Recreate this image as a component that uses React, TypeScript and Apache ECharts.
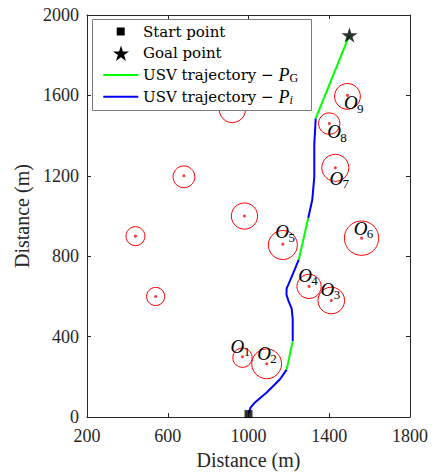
import React, { useEffect, useRef } from "react";
import * as echarts from "echarts";

// ---- data ----
const xTicks = [200, 600, 1000, 1400, 1800];
const yTicks = [0, 400, 800, 1200, 1600, 2000];

// obstacles: [x, y, radius]
const labeledObstacles = [
  [970, 300, 48],
  [1090, 265, 74],
  [1410, 580, 66],
  [1300, 650, 60],
  [1170, 860, 72],
  [1560, 890, 85],
  [1430, 1240, 67],
  [1400, 1460, 53],
  [1490, 1600, 64],
];
const otherObstacles = [
  [680, 1200, 54],
  [980, 1000, 65],
  [440, 900, 47],
  [540, 600, 45],
  [920, 1530, 65],
];
// label anchors (centre of "O") and index
const obstacleLabels = [
  [945, 352, 1],
  [1077, 318, 2],
  [1391, 635, 3],
  [1280, 706, 4],
  [1167, 921, 5],
  [1555, 940, 6],
  [1435, 1188, 7],
  [1424, 1419, 8],
  [1507, 1563, 9],
];

const startPoint = [1000, 15];
const goalPoint = [1500, 1900];

const blue1 = [[1000, 15], [1004, 31], [1011, 48], [1032, 73], [1090, 122], [1156, 188], [1189, 236]];
const green1 = [[1189, 236], [1219, 378]];
const blue2 = [[1219, 378], [1219, 486], [1214, 540], [1198, 578], [1188, 610], [1189, 640], [1200, 665], [1222, 717], [1249, 783]];
const green2 = [[1249, 783], [1296, 990]];
const blue3 = [[1296, 990], [1316, 1081], [1326, 1196], [1326, 1360], [1333, 1486]];
const green3 = [[1333, 1486], [1500, 1900]];

const greenSegments = [green1, green2, green3];
const blueSegments = [blue1, blue2, blue3];

const legendNames = ["Start point", "Goal point", "USV trajectory − ", "USV trajectory − "];

// ---- styles ----
const GREEN = "#00ff00";
const BLUE = "#0000ff";
const RED = "#ff0000";
const AX = "#262626";
const FONT = "'Liberation Serif', 'Times New Roman', serif";
const LFONT = "'DejaVu Serif', serif";

const starPts = [
  [0, -10], [2.245, -3.09], [9.511, -3.09], [3.633, 1.18], [5.878, 8.09],
  [0, 3.82], [-5.878, 8.09], [-3.633, 1.18], [-9.511, -3.09], [-2.245, -3.09],
];
const starPath =
  "path://M" + starPts.map((p) => p[0] + "," + p[1]).join("L") + "Z";

export default function App() {
  const ref = useRef<HTMLDivElement>(null);
  useEffect(() => {
    const chart = echarts.init(ref.current!, null, { renderer: "svg" });
    const xMin = xTicks[0];
    const xMax = xTicks[xTicks.length - 1];
    const yMin = yTicks[0];
    const yMax = yTicks[yTicks.length - 1];
    const xInt = xTicks[1] - xTicks[0];
    const yInt = yTicks[1] - yTicks[0];

    const baseAxis = {
      type: "value",
      splitLine: { show: false },
      axisLine: { show: true, onZero: false, lineStyle: { color: AX, width: 1 } },
      axisTick: { show: true, inside: true, length: 4, lineStyle: { color: AX } },
    };

    const lineSeries = (data: number[][], color: string) => ({
      type: "line",
      data,
      symbol: "none",
      lineStyle: { color, width: 2 },
      z: 5,
      silent: true,
    });

    const legendX = 92.5;
    const legendY = 19.5;
    const rowY = [31.5, 53.3, 75, 96.7];
    const star = (cx: number, cy: number, s: number) =>
      starPts.map((p) => [cx + p[0] * s, cy + p[1] * s]);
    const plain = (v: number) => String(v);

    const option: any = {
      animation: false,
      textStyle: { fontFamily: FONT },
      grid: { left: 87, right: 25, top: 15, bottom: 57 },
      xAxis: [
        {
          ...baseAxis,
          min: xMin,
          max: xMax,
          interval: xInt,
          position: "bottom",
          name: "Distance (m)",
          nameLocation: "middle",
          nameGap: 32,
          nameTextStyle: { fontFamily: FONT, fontSize: 20, color: AX },
          axisLabel: { fontFamily: FONT, fontSize: 18, color: AX, margin: 10, formatter: plain },
        },
        {
          ...baseAxis,
          min: xMin,
          max: xMax,
          interval: xInt,
          position: "top",
          axisLabel: { show: false },
        },
      ],
      yAxis: [
        {
          ...baseAxis,
          min: yMin,
          max: yMax,
          interval: yInt,
          position: "left",
          name: "Distance (m)",
          nameLocation: "middle",
          nameGap: 49,
          nameTextStyle: { fontFamily: FONT, fontSize: 20, color: AX },
          axisLabel: { fontFamily: FONT, fontSize: 18, color: AX, margin: 8, formatter: plain },
        },
        {
          ...baseAxis,
          min: yMin,
          max: yMax,
          interval: yInt,
          position: "right",
          axisLabel: { show: false },
        },
      ],
      series: [
        {
          type: "custom",
          data: [...labeledObstacles, ...otherObstacles],
          encode: { x: 0, y: 1 },
          renderItem: (params: any, api: any) => {
            const c = api.coord([api.value(0), api.value(1)]);
            const r = api.size([api.value(2), 0])[0];
            return {
              type: "circle",
              shape: { cx: c[0], cy: c[1], r },
              style: { fill: "none", stroke: RED, lineWidth: 1 },
            };
          },
          z: 3,
          silent: true,
        },
        {
          type: "scatter",
          data: [...labeledObstacles, ...otherObstacles].map((o) => [o[0], o[1]]),
          symbol: "circle",
          symbolSize: 3,
          itemStyle: { color: RED },
          z: 3,
          silent: true,
        },
        ...blueSegments.map((s) => lineSeries(s, BLUE)),
        ...greenSegments.map((s) => lineSeries(s, GREEN)),
        {
          type: "custom",
          data: obstacleLabels,
          encode: { x: 0, y: 1 },
          renderItem: (params: any, api: any) => {
            const c = api.coord([api.value(0), api.value(1)]);
            return {
              type: "group",
              children: [
                {
                  type: "text",
                  x: c[0],
                  y: c[1],
                  style: {
                    text: "O",
                    fontFamily: FONT,
                    fontStyle: "italic",
                    fontSize: 19,
                    fill: "#000",
                    align: "center",
                    verticalAlign: "middle",
                  },
                },
                {
                  type: "text",
                  x: c[0] + 9.5,
                  y: c[1] + 5.5,
                  style: {
                    text: String(api.value(2)),
                    fontFamily: FONT,
                    fontSize: 13,
                    fill: "#000",
                    align: "center",
                    verticalAlign: "middle",
                  },
                },
              ],
            };
          },
          z: 6,
          silent: true,
        },
        {
          type: "scatter",
          data: [startPoint],
          symbol: "rect",
          symbolSize: 8,
          itemStyle: { color: "#000" },
          z: 7,
          silent: true,
        },
        {
          type: "scatter",
          data: [goalPoint],
          symbol: starPath,
          symbolSize: [16, 15],
          itemStyle: { color: "#000" },
          z: 7,
          silent: true,
        },
      ],
      graphic: [
        {
          type: "rect",
          z: 100,
          shape: { x: legendX, y: legendY, width: 219, height: 91 },
          style: { fill: "#fff", stroke: "#7a7a7a", lineWidth: 1 },
        },
        {
          type: "rect",
          z: 101,
          shape: { x: 116.7, y: rowY[0] - 4, width: 8, height: 8 },
          style: { fill: "#000" },
        },
        {
          type: "polygon",
          z: 101,
          shape: { points: star(121, rowY[1] + 0.8, 0.85) },
          style: { fill: "#000" },
        },
        {
          type: "line",
          z: 101,
          shape: { x1: 103.3, y1: rowY[2], x2: 138.3, y2: rowY[2] },
          style: { stroke: GREEN, lineWidth: 2 },
        },
        {
          type: "line",
          z: 101,
          shape: { x1: 103.3, y1: rowY[3], x2: 138.3, y2: rowY[3] },
          style: { stroke: BLUE, lineWidth: 2 },
        },
        {
          type: "text",
          z: 101,
          x: 143,
          y: rowY[0],
          style: { text: legendNames[0], fontFamily: LFONT, fontSize: 15, fill: "#000", verticalAlign: "middle" },
        },
        {
          type: "text",
          z: 101,
          x: 143,
          y: rowY[1],
          style: { text: legendNames[1], fontFamily: LFONT, fontSize: 15, fill: "#000", verticalAlign: "middle" },
        },
        {
          type: "text",
          z: 101,
          x: 143,
          y: rowY[2],
          style: {
            text: "{n|" + legendNames[2] + "}{p|P}{s|G}",
            verticalAlign: "middle",
            rich: {
              n: { fontFamily: LFONT, fontSize: 15, color: "#000" },
              p: { fontFamily: FONT, fontStyle: "italic", fontSize: 18, color: "#000" },
              s: { fontFamily: FONT, fontSize: 12, color: "#000", lineHeight: 6, verticalAlign: "bottom" },
            },
          },
        },
        {
          type: "text",
          z: 101,
          x: 143,
          y: rowY[3],
          style: {
            text: "{n|" + legendNames[3] + "}{p|P}{s|i}",
            verticalAlign: "middle",
            rich: {
              n: { fontFamily: LFONT, fontSize: 15, color: "#000" },
              p: { fontFamily: FONT, fontStyle: "italic", fontSize: 18, color: "#000" },
              s: { fontFamily: FONT, fontStyle: "italic", fontSize: 12, color: "#000", lineHeight: 6, verticalAlign: "bottom" },
            },
          },
        },
      ],
    };
    chart.setOption(option);
    return () => chart.dispose();
  }, []);
  return (
    <div
      ref={ref}
      style={{ position: "fixed", left: 0, top: 0, width: 435, height: 475, background: "#fff" }}
    />
  );
}
